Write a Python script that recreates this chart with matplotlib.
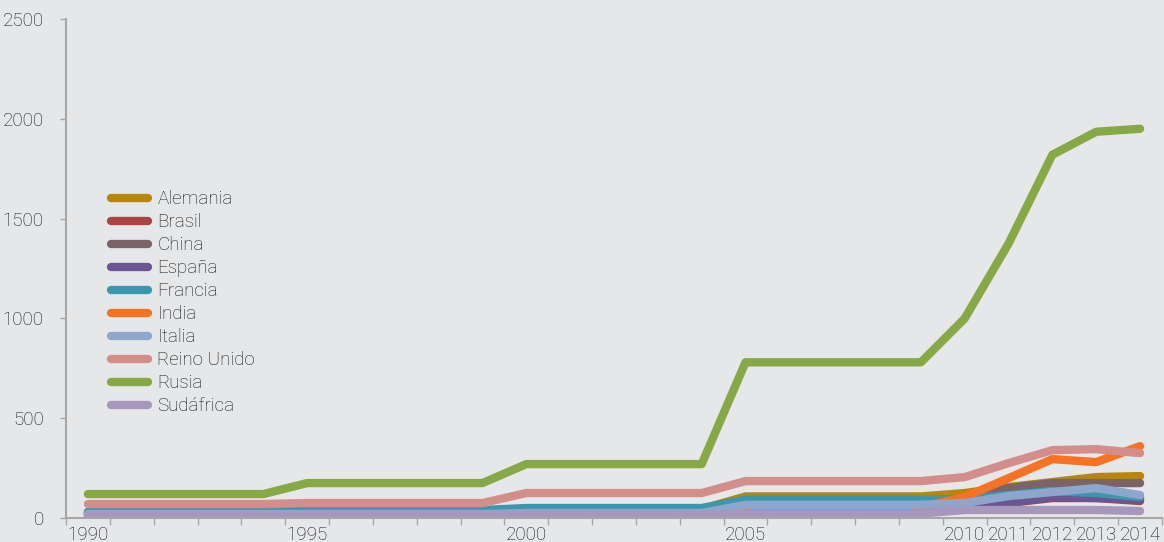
import matplotlib
matplotlib.use("Agg")
import matplotlib.pyplot as plt
from matplotlib.ticker import FixedLocator, NullFormatter

years = list(range(1990, 2015))
year_labels = ["1990", "", "", "", "", "1995", "", "", "", "", "2000", "", "", "", "",
               "2005", "", "", "", "", "2010", "2011", "2012", "2013", "2014"]

alemania = [30]*5 + [35]*5 + [45]*5 + [108]*5 + [125, 155, 180, 205, 210]
brasil = [25]*5 + [25]*5 + [30]*5 + [40]*5 + [55, 75, 100, 100, 85]
china = [20]*5 + [20]*5 + [25]*5 + [40]*5 + [100, 150, 175, 175, 175]
espana = [15]*5 + [15]*5 + [20]*5 + [35]*5 + [50, 75, 105, 100, 95]
francia = [30]*5 + [40]*5 + [50]*5 + [92]*5 + [95, 115, 135, 125, 105]
india = [-5]*5 + [-5]*5 + [-5]*5 + [42]*4 + [55] + [105, 200, 295, 280, 360]
italia = [20]*5 + [20]*5 + [25]*5 + [66]*5 + [75, 110, 130, 150, 115]
reino_unido = [70]*5 + [75]*5 + [125]*5 + [185]*5 + [205, 275, 340, 345, 325]
rusia = [120]*5 + [175]*5 + [270]*5 + [780]*5 + [1000, 1375, 1820, 1935, 1950]
sudafrica = [10]*5 + [10]*5 + [15]*5 + [22]*5 + [40, 40, 40, 40, 35]

series = [
    ("Alemania", alemania, "#B8860B"),
    ("Brasil", brasil, "#A94442"),
    ("China", china, "#7A6468"),
    ("España", espana, "#6B5592"),
    ("Francia", francia, "#3A97AE"),
    ("India", india, "#F77223"),
    ("Italia", italia, "#8EA5CC"),
    ("Reino Unido", reino_unido, "#D38E8C"),
    ("Rusia", rusia, "#86A845"),
    ("Sudáfrica", sudafrica, "#A797BC"),
]

bg = "#E6E7E9"
txt = "#141414"
plt.rcParams['font.family'] = ['Roboto', 'DejaVu Sans']

fig = plt.figure(figsize=(11.64, 5.42), dpi=100, facecolor=bg)
ax = fig.add_axes([66/1164, 1-518/542, (1162-66)/1164, (518-19)/542])
ax.set_facecolor(bg)

x = list(range(len(years)))
for name, vals, col in series:
    ax.plot(x, vals, color=col, lw=6, solid_capstyle='round', solid_joinstyle='round', label=name)

ax.set_xlim(-0.5, len(years)-0.5)
ax.set_ylim(0, 2500)
ax.set_yticks([0, 500, 1000, 1500, 2000, 2500])
ax.xaxis.set_major_locator(FixedLocator([i - 0.5 for i in range(len(years)+1)]))
ax.xaxis.set_major_formatter(NullFormatter())
ax.xaxis.set_minor_locator(FixedLocator(x))
ax.set_xticklabels(year_labels, minor=True)
ax.tick_params(axis='x', which='major', length=5, color='#A6A6A6', width=1)
ax.tick_params(axis='x', which='minor', length=0, pad=6, labelsize=13.5, labelcolor=txt)
ax.tick_params(axis='y', length=4, color='#A6A6A6', width=1, labelsize=13.5, labelcolor=txt, pad=12)
for lab in ax.get_xticklabels(minor=True) + ax.get_yticklabels():
    lab.set_fontweight('light')

for s in ['top', 'right']:
    ax.spines[s].set_visible(False)
for s in ['left', 'bottom']:
    ax.spines[s].set_color('#A6A6A6')
    ax.spines[s].set_linewidth(1.5)

leg = ax.legend(loc='upper left', bbox_to_anchor=(103/1164, 1-183/542), bbox_transform=fig.transFigure,
                frameon=False, fontsize=13.5, handlelength=2.0, labelspacing=0.265, handletextpad=0.5,
                borderaxespad=0, borderpad=0.4)
for t in leg.get_texts():
    t.set_color(txt)
    t.set_fontweight('light')

fig.savefig("out.png", dpi=100, facecolor=bg)
